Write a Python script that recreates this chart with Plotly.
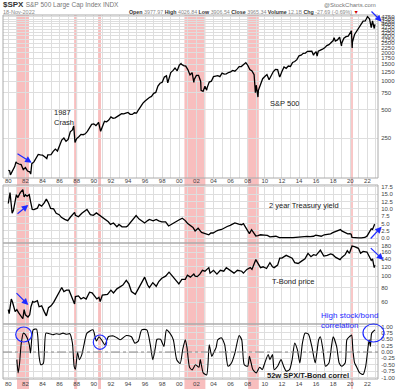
import plotly.graph_objects as go

# ---------------- data ----------------
spx_t = [1980.0, 1980.15, 1980.25, 1980.5, 1980.75, 1980.9, 1981.0, 1981.25, 1981.5, 1981.75,
         1982.0, 1982.25, 1982.5, 1982.62, 1982.75, 1983.0, 1983.25, 1983.5, 1983.75, 1984.0,
         1984.25, 1984.5, 1984.62, 1984.75, 1985.0, 1985.25, 1985.5, 1985.75, 1986.0, 1986.25,
         1986.5, 1986.75, 1987.0, 1987.25, 1987.5, 1987.65, 1987.8, 1988.0, 1988.25, 1988.5,
         1988.75, 1989.0, 1989.25, 1989.5, 1989.75, 1990.0, 1990.25, 1990.5, 1990.55, 1990.8,
         1991.0, 1991.25, 1991.5, 1991.75, 1992.0, 1992.25, 1992.5, 1992.75, 1993.0, 1993.25,
         1993.5, 1993.75, 1994.0, 1994.25, 1994.5, 1994.75, 1995.0, 1995.25, 1995.5, 1995.75,
         1996.0, 1996.25, 1996.5, 1996.75, 1997.0, 1997.25, 1997.5, 1997.75, 1998.0, 1998.25,
         1998.5, 1998.65, 1998.75, 1999.0, 1999.25, 1999.5, 1999.75, 2000.0, 2000.2, 2000.25,
         2000.5, 2000.75, 2001.0, 2001.25, 2001.5, 2001.7, 2001.75, 2002.0, 2002.25, 2002.5,
         2002.55, 2002.78, 2003.0, 2003.2, 2003.25, 2003.5, 2003.75, 2004.0, 2004.25, 2004.5,
         2004.75, 2005.0, 2005.25, 2005.5, 2005.75, 2006.0, 2006.25, 2006.5, 2006.75, 2007.0,
         2007.25, 2007.5, 2007.78, 2008.0, 2008.25, 2008.5, 2008.75, 2008.9, 2009.0, 2009.2,
         2009.25, 2009.5, 2009.75, 2010.0, 2010.25, 2010.5, 2010.75, 2011.0, 2011.25, 2011.5,
         2011.7, 2011.75, 2012.0, 2012.25, 2012.5, 2012.75, 2013.0, 2013.25, 2013.5, 2013.75,
         2014.0, 2014.25, 2014.5, 2014.75, 2015.0, 2015.25, 2015.5, 2015.7, 2015.75, 2016.0,
         2016.12, 2016.25, 2016.5, 2016.75, 2017.0, 2017.25, 2017.5, 2017.75, 2018.0, 2018.1,
         2018.25, 2018.5, 2018.75, 2018.97, 2019.0, 2019.25, 2019.5, 2019.75, 2020.0, 2020.13,
         2020.22, 2020.25, 2020.5, 2020.75, 2021.0, 2021.25, 2021.5, 2021.75, 2022.0, 2022.01,
         2022.25, 2022.45, 2022.6, 2022.75, 2022.8, 2022.88]
spx_v = [114, 113, 102, 114, 125, 140, 136, 133, 131, 116,
         122, 112, 110, 104, 134, 140, 153, 168, 166, 165,
         159, 152, 166, 166, 167, 181, 191, 182, 211, 238,
         250, 231, 242, 291, 304, 336, 225, 247, 258, 273,
         271, 277, 294, 317, 349, 353, 339, 358, 368, 295,
         330, 375, 371, 387, 417, 403, 408, 418, 436, 451,
         450, 458, 466, 445, 444, 462, 459, 500, 545, 584,
         616, 645, 670, 687, 741, 757, 885, 947, 970, 1101,
         1133, 957, 1017, 1229, 1286, 1373, 1282, 1469, 1527, 1498,
         1454, 1436, 1320, 1160, 1224, 966, 1040, 1148, 1147, 990,
         797, 777, 880, 800, 848, 975, 996, 1112, 1126, 1141,
         1114, 1212, 1181, 1191, 1229, 1248, 1295, 1270, 1336, 1418,
         1421, 1503, 1565, 1468, 1323, 1280, 1166, 752, 903, 677,
         798, 919, 1057, 1115, 1169, 1031, 1141, 1258, 1326, 1321,
         1131, 1099, 1258, 1408, 1362, 1441, 1426, 1569, 1606, 1682,
         1848, 1872, 1960, 1972, 2059, 2068, 2063, 1867, 1920, 2044,
         1829, 2060, 2099, 2168, 2239, 2363, 2423, 2519, 2674, 2872,
         2641, 2718, 2914, 2351, 2507, 2834, 2942, 2977, 3231, 3386,
         2237, 2585, 3100, 3363, 3756, 3973, 4298, 4308, 4766, 4796,
         4530, 3667, 4305, 3586, 3583, 3965]

y2_t = [1980.0, 1980.2, 1980.45, 1980.6, 1980.95, 1981.1, 1981.4, 1981.7, 1981.85, 1982.0,
        1982.2, 1982.45, 1982.6, 1982.8, 1983.0, 1983.4, 1983.6, 1983.9, 1984.2, 1984.45,
        1984.7, 1984.95, 1985.3, 1985.6, 1985.95, 1986.2, 1986.6, 1986.95, 1987.3, 1987.75,
        1987.85, 1988.2, 1988.6, 1988.95, 1989.2, 1989.6, 1989.95, 1990.3, 1990.6, 1990.95,
        1991.3, 1991.7, 1991.95, 1992.3, 1992.7, 1992.95, 1993.3, 1993.8, 1993.95, 1994.3,
        1994.6, 1994.95, 1995.3, 1995.6, 1995.95, 1996.3, 1996.5, 1996.95, 1997.3, 1997.6,
        1997.95, 1998.4, 1998.75, 1998.95, 1999.3, 1999.6, 1999.95, 2000.35, 2000.7, 2000.95,
        2001.3, 2001.6, 2001.85, 2002.2, 2002.6, 2002.95, 2003.45, 2003.7, 2003.95, 2004.3,
        2004.5, 2004.95, 2005.3, 2005.6, 2005.95, 2006.3, 2006.5, 2006.95, 2007.3, 2007.5,
        2007.95, 2008.2, 2008.45, 2008.95, 2009.2, 2009.5, 2009.95, 2010.3, 2010.6, 2010.95,
        2011.3, 2011.7, 2011.95, 2012.5, 2012.95, 2013.3, 2013.7, 2013.95, 2014.5, 2014.95,
        2015.3, 2015.7, 2015.95, 2016.4, 2016.6, 2016.95, 2017.3, 2017.7, 2017.95, 2018.3,
        2018.6, 2018.85, 2019.0, 2019.4, 2019.7, 2019.95, 2020.1, 2020.2, 2020.5, 2020.95,
        2021.3, 2021.7, 2021.95, 2022.15, 2022.3, 2022.45, 2022.6, 2022.75, 2022.82, 2022.88]
y2_v = [11.8, 15.5, 8.5, 9.5, 14.8, 13.8, 15.5, 16.5, 14.0, 14.8,
        14.3, 14.8, 12.5, 9.8, 9.7, 10.2, 11.5, 10.9, 12.0, 13.3,
        12.0, 10.1, 10.0, 8.5, 8.0, 7.1, 6.4, 6.0, 7.3, 8.8,
        7.8, 7.3, 8.5, 9.1, 9.8, 8.0, 7.8, 8.6, 8.0, 7.1,
        6.5, 5.6, 4.7, 5.2, 3.9, 4.7, 3.9, 3.9, 4.2, 5.4,
        6.3, 7.7, 6.5, 5.8, 5.2, 6.0, 6.4, 5.9, 6.4, 5.9,
        5.6, 5.6, 4.2, 4.5, 5.0, 5.6, 6.2, 6.8, 6.0, 5.1,
        4.2, 3.7, 2.5, 3.4, 2.0, 1.7, 1.2, 1.8, 1.8, 2.4,
        2.7, 3.0, 3.7, 4.0, 4.4, 4.8, 5.2, 4.8, 4.6, 5.0,
        3.1, 1.6, 2.9, 0.8, 0.9, 1.2, 1.1, 1.0, 0.5, 0.6,
        0.7, 0.2, 0.25, 0.3, 0.25, 0.25, 0.4, 0.38, 0.5, 0.67,
        0.6, 0.7, 1.05, 0.8, 0.7, 1.2, 1.3, 1.5, 1.9, 2.3,
        2.7, 2.95, 2.5, 1.9, 1.5, 1.6, 1.4, 0.3, 0.15, 0.12,
        0.16, 0.28, 0.73, 1.6, 2.7, 3.2, 3.0, 4.2, 4.6, 4.5]

tb_t = [1980.0, 1980.1, 1980.35, 1980.5, 1980.8, 1981.0, 1981.2, 1981.45, 1981.7, 1981.85,
        1982.0, 1982.3, 1982.5, 1982.65, 1982.85, 1983.0, 1983.4, 1983.6, 1983.9, 1984.2,
        1984.45, 1984.7, 1985.0, 1985.3, 1985.6, 1985.95, 1986.25, 1986.5, 1986.8, 1987.1,
        1987.4, 1987.75, 1987.85, 1988.2, 1988.5, 1988.8, 1989.1, 1989.5, 1989.8, 1990.1,
        1990.35, 1990.6, 1990.75, 1991.0, 1991.3, 1991.6, 1992.0, 1992.3, 1992.7, 1993.0,
        1993.4, 1993.8, 1994.1, 1994.4, 1994.85, 1995.2, 1995.5, 1995.95, 1996.3, 1996.5,
        1996.9, 1997.3, 1997.6, 1997.95, 1998.4, 1998.8, 1999.1, 1999.5, 1999.95, 2000.3,
        2000.7, 2000.95, 2001.3, 2001.7, 2001.85, 2002.1, 2002.4, 2002.7, 2003.0, 2003.45,
        2003.6, 2004.0, 2004.4, 2004.8, 2005.2, 2005.5, 2005.9, 2006.4, 2006.8, 2007.3,
        2007.5, 2007.9, 2008.3, 2008.5, 2008.95, 2009.2, 2009.5, 2009.8, 2010.2, 2010.6,
        2010.9, 2011.1, 2011.5, 2011.75, 2012.0, 2012.5, 2012.8, 2013.2, 2013.5, 2013.9,
        2014.3, 2014.7, 2015.05, 2015.4, 2015.7, 2016.0, 2016.5, 2016.9, 2017.3, 2017.7,
        2017.95, 2018.3, 2018.8, 2019.0, 2019.4, 2019.65, 2019.9, 2020.2, 2020.5, 2020.7,
        2020.95, 2021.2, 2021.5, 2021.95, 2022.2, 2022.45, 2022.6, 2022.8, 2022.88]
tb_v = [52, 48, 64, 60, 50, 52, 49, 46, 43.5, 52,
        47, 45, 47, 55, 61, 60, 62, 55, 56, 50,
        46, 54, 56, 60, 66, 74, 80, 74, 76, 76,
        66, 58, 67, 68, 64, 66, 64, 73, 72, 68,
        64, 66, 61, 69, 70, 70, 76, 72, 78, 80,
        84, 92, 86, 74, 70, 78, 86, 98, 84, 80,
        88, 82, 90, 96, 100, 108, 102, 94, 86, 94,
        94, 102, 98, 104, 100, 99, 104, 112, 110, 118,
        106, 112, 104, 112, 110, 118, 112, 106, 112, 110,
        106, 114, 118, 114, 138, 128, 118, 120, 116, 130,
        120, 118, 124, 142, 142, 150, 146, 142, 130, 128,
        134, 140, 156, 146, 152, 150, 166, 148, 150, 154,
        152, 144, 138, 144, 152, 164, 156, 180, 178, 176,
        172, 156, 162, 160, 148, 136, 140, 118, 124]

cor_t = [1981.0, 1981.15, 1981.3, 1981.5, 1981.75, 1981.9, 1982.2, 1982.45, 1982.6, 1982.9,
         1983.3, 1983.45, 1983.6, 1983.8, 1984.1, 1984.4, 1984.8, 1985.2, 1985.6, 1986.0,
         1986.4, 1986.8, 1987.2, 1987.5, 1987.7, 1987.85, 1988.1, 1988.3, 1988.6, 1988.8,
         1989.2, 1989.9, 1990.3, 1990.6, 1990.9, 1991.3, 1991.7, 1992.3, 1992.7, 1993.1,
         1993.8, 1994.4, 1994.8, 1995.2, 1995.6, 1996.2, 1996.6, 1996.9, 1997.2, 1997.4,
         1997.8, 1998.2, 1998.5, 1998.9, 1999.3, 1999.7, 2000.1, 2000.4, 2000.7, 2000.9,
         2001.2, 2001.5, 2001.9, 2002.3, 2002.45, 2002.8, 2003.2, 2003.5, 2003.8, 2004.0,
         2004.3, 2004.5, 2004.9, 2005.3, 2005.7, 2006.1, 2006.5, 2007.0, 2007.3, 2007.6,
         2008.0, 2008.2, 2008.4, 2008.6, 2009.0, 2009.4, 2009.7, 2010.0, 2010.4, 2010.6,
         2010.9, 2011.1, 2011.5, 2011.9, 2012.2, 2012.5, 2012.9, 2013.2, 2013.5, 2013.8,
         2014.1, 2014.4, 2014.7, 2015.1, 2015.5, 2015.9, 2016.3, 2016.5, 2016.8, 2017.1,
         2017.5, 2017.8, 2018.0, 2018.4, 2018.7, 2019.0, 2019.4, 2019.6, 2019.9, 2020.15,
         2020.3, 2020.5, 2020.7, 2021.1, 2021.5, 2021.8, 2022.0, 2022.2, 2022.35, 2022.5,
         2022.88]
cor_v = [-0.3, -0.82, -0.5, 0.3, 0.74, 0.72, 0.56, 0.3, -0.04, 0.87,
         0.9, 0.6, -0.17, -0.5, -0.45, 0.74, 0.72, 0.68, 0.72, 0.7,
         0.74, 0.7, 0.72, 0.35, -0.56, -0.68, 0.0, -0.3, -0.1, 0.2,
         0.74, 0.87, 0.43, 0.6, 0.48, 0.28, 0.6, 0.63, 0.56, 0.48,
         0.65, 0.6, 0.35, 0.43, 0.87, 0.87, 0.3, -0.3, 0.17, 0.5,
         0.5, 0.22, 0.87, 0.74, 0.48, -0.3, -0.45, 0.1, 0.48, 0.17,
         -0.6, -0.7, -0.5, -0.6, -0.3, -0.82, -0.9, 0.28, -0.17, -0.04,
         0.17, 0.48, 0.56, 0.3, -0.56, -0.43, -0.04, 0.65, 0.48, -0.5,
         -0.56, -0.17, -0.43, -0.69, -0.82, -0.6, -0.69, -0.43, -0.1, -0.3,
         -0.1, -0.69, -0.56, -0.3, -0.56, -0.75, -0.69, -0.3, 0.35, 0.1,
         -0.43, 0.35, 0.74, 0.7, 0.22, -0.43, 0.48, 0.6, 0.1, -0.56,
         -0.43, 0.22, 0.6, 0.22, -0.43, -0.56, -0.43, 0.48, 0.6, 0.67,
         0.1, -0.43, -0.56, -0.82, -0.88, -0.56, -0.04, 0.48, 0.22, 0.74,
         0.87]

band_start = [1981.02, 1987.7, 1990.5, 2000.6, 2008.05, 2020.1]
band_end = [1982.42, 1988.05, 1990.84, 2003.05, 2009.3, 2020.3]

year_ticks = list(range(1980, 2024))
year_labels = [("%02d" % (y % 100)) if y % 2 == 0 else "" for y in year_ticks]
spx_ticks = [250, 500, 750, 1000, 1250, 1500, 1750, 2000, 2250, 2500, 2750, 3000,
             3250, 3500, 3750, 4000, 4250, 4500, 4750]
y2_ticks = [0.0, 2.5, 5.0, 7.5, 10.0, 12.5, 15.0, 17.5]
tb_ticks = [60, 80, 100, 120, 140, 160, 180]
cor_ticks = [-1.0, -0.75, -0.5, -0.25, 0.0, 0.25, 0.5, 0.75, 1.0]

# ---------------- layout helpers ----------------
W, H = 400, 389
ML, MR, MT, MB = 3, 22, 15, 10
PW, PH = W - ML - MR, H - MT - MB


def px(x):
    return (x - ML) / PW


def py(y):
    return (H - MB - y) / PH


FONT = "Liberation Sans, Arial, sans-serif"
GRID = "#dedede"
TICKF = dict(family=FONT, size=6, color="#444")
BLUE = "#1f2bff"

fig = go.Figure()
fig.add_trace(go.Scatter(x=spx_t, y=spx_v, mode="lines", line=dict(color="black", width=1.3),
                         xaxis="x", yaxis="y"))
fig.add_trace(go.Scatter(x=y2_t, y=y2_v, mode="lines", line=dict(color="black", width=1.3),
                         xaxis="x2", yaxis="y2"))
fig.add_trace(go.Scatter(x=tb_t, y=tb_v, mode="lines", line=dict(color="black", width=1.3),
                         xaxis="x3", yaxis="y3"))
fig.add_trace(go.Scatter(x=cor_t, y=cor_v, mode="lines", line=dict(color="black", width=1.1, shape="spline", smoothing=0.6),
                         xaxis="x4", yaxis="y4"))

xr = [1979.38, 2023.24]
dom = {
    1: [py(178), py(15)],
    2: [py(243), py(185)],
    3: [py(324), py(243)],
    4: [py(379), py(324)],
}


def xax(anchor, labels, standoff=0):
    return dict(range=xr, domain=[0, 1], anchor=anchor, tickvals=year_ticks,
                ticktext=year_labels if labels else [""] * len(year_ticks),
                showticklabels=labels, tickfont=TICKF, ticks="outside", ticklen=1,
                tickcolor="rgba(0,0,0,0)", ticklabelstandoff=standoff, showgrid=True,
                gridcolor=GRID, gridwidth=1, zeroline=False, showline=False,
                fixedrange=True)


def yax(anchor, domain, rng, ticks, typ="linear", fmt=None):
    d = dict(domain=domain, anchor=anchor, range=rng, type=typ, side="right",
             tickvals=ticks, tickfont=TICKF, ticks="outside", ticklen=1,
             tickcolor="rgba(0,0,0,0)", ticklabelposition="outside",
             showgrid=True, gridcolor=GRID,
             zeroline=False, showline=False)
    if fmt:
        d["ticktext"] = [fmt % t for t in ticks]
    else:
        d["ticktext"] = [str(t) for t in ticks]
    return d


fig.update_layout(
    width=W, height=H, margin=dict(l=ML, r=MR, t=MT, b=MB, autoexpand=False),
    paper_bgcolor="white", plot_bgcolor="rgba(0,0,0,0)", showlegend=False,
    font=dict(family=FONT),
    xaxis=xax("y", True, -4),
    xaxis2=dict(xax("y2", False), matches="x"),
    xaxis3=dict(xax("y3", False), matches="x"),
    xaxis4=dict(xax("y4", True, -2), matches="x"),
    yaxis=yax("x", dom[1], [1.976, 3.697], spx_ticks, "log"),
    yaxis2=yax("x2", dom[2], [-1.59, 18.07], y2_ticks, fmt="%.1f"),
    yaxis3=yax("x3", dom[3], [1.594, 2.2807], tb_ticks, "log"),
    yaxis4=yax("x4", dom[4], [-1.06, 1.10], cor_ticks, fmt="%.2f"),
)

shapes = []
for s, e in zip(band_start, band_end):
    shapes.append(dict(type="rect", xref="x", yref="paper", x0=s, x1=e, y0=-MB / PH, y1=1,
                       fillcolor="rgba(240,110,110,0.45)", line=dict(width=0), layer="below"))
# panel frames
for k in (1, 2, 3, 4):
    shapes.append(dict(type="rect", xref="paper", yref="paper", x0=0, x1=1,
                       y0=dom[k][0], y1=dom[k][1], line=dict(color="#aaa", width=1),
                       fillcolor="rgba(0,0,0,0)", layer="above"))
shapes.append(dict(type="line", xref="x4", yref="y4", x0=xr[0], x1=xr[1], y0=0, y1=0,
                   line=dict(color="#888", width=1, dash="dashdot")))
for (x0, x1, y0, y1) in [(15.7, 31.7, 327, 342), (93.3, 106.7, 335, 349.3), (363, 384, 324, 342)]:
    shapes.append(dict(type="circle", xref="paper", yref="paper", x0=px(x0), x1=px(x1),
                       y0=py(y1), y1=py(y0), line=dict(color=BLUE, width=1.2)))
fig.update_layout(shapes=shapes)

ann = []


def text(x, y, t, size=7.5, color="#222", xanchor="left", yanchor="middle", align="left"):
    ann.append(dict(xref="paper", yref="paper", x=px(x), y=py(y), text=t, showarrow=False,
                    xanchor=xanchor, yanchor=yanchor, align=align,
                    font=dict(family=FONT, size=size, color=color)))


text(1, 4.5, "<b>$SPX</b> <span style='color:#777;font-size:6.5px'>S&P 500 Large Cap Index INDX</span>", size=8, color="#333")
text(1, 11.5, "18-Nov-2022", size=5.5, color="#888")
text(378, 4.5, "@StockCharts.com", size=6, color="#777", xanchor="right")
text(127, 11.5, "<b>Open</b> <span style='color:#888'>3977.97</span> <b>High</b> <span style='color:#888'>4026.84</span> "
     "<b>Low</b> <span style='color:#888'>3906.54</span> <b>Close</b> <span style='color:#888'>3965.34</span> "
     "<b>Volume</b> <span style='color:#888'>12.1B</span> <b>Chg</b> <span style='color:#888'>-27.69 (-0.69%)</span> "
     "<span style='color:#c00'>▼</span>", size=5.3, color="#333")
text(52, 117, "1987<br>Crash", size=7.5)
text(284, 103, "S&P 500", size=7.5, xanchor="center")
text(304, 205.5, "2 year Treasury yield", size=7.5, xanchor="center")
text(293, 281, "T-Bond price", size=7.5, xanchor="center")
text(307.5, 375.5, "<b>52w SPX/T-Bond correl</b>", size=7.5, xanchor="center")
text(319, 320, "High stock/bond<br>correlation", size=8, color=BLUE)

arrows = [((16, 152.7), (31.7, 162.7)), ((370, 10), (381.7, 21.7)), ((16, 215), (28.3, 205)),
          ((369.3, 240), (381.7, 226.7)), ((369.3, 246.7), (383.3, 260)), ((15, 291.7), (28.3, 305))]
for (tx, ty), (hx, hy) in arrows:
    ann.append(dict(xref="paper", yref="paper", x=px(hx), y=py(hy), ax=tx - hx, ay=ty - hy,
                    showarrow=True, arrowhead=2, arrowsize=1.1, arrowwidth=1.2, arrowcolor=BLUE, text=""))
fig.update_layout(annotations=ann)

fig.write_html("out.html", config={"displayModeBar": False},
               post_script="document.body.style.margin='0px';document.body.style.padding='0px';document.body.style.overflow='hidden';")
